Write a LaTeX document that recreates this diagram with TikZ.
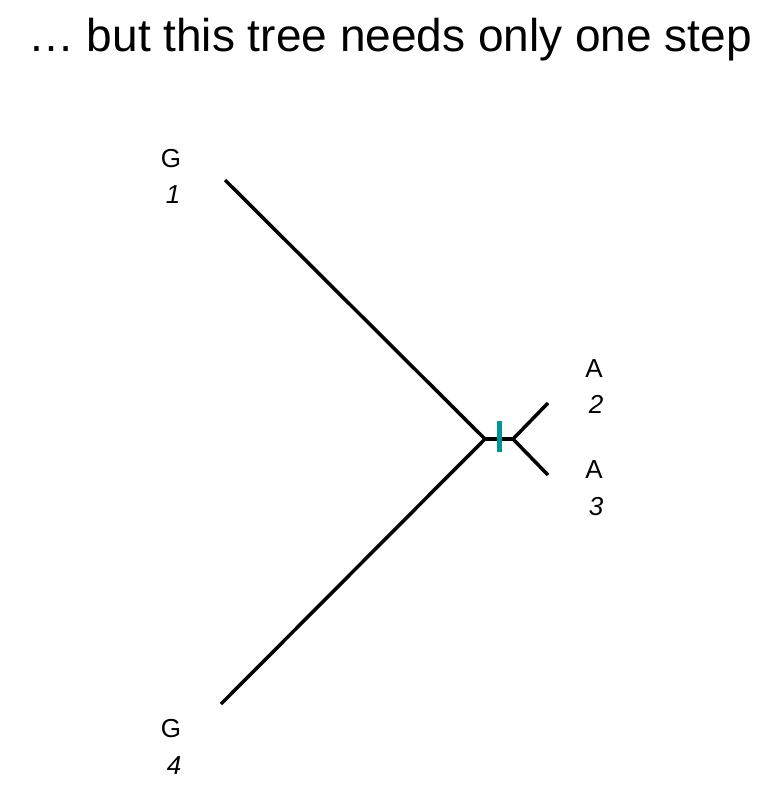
\documentclass[tikz,border=0pt]{standalone}
\usepackage{fontspec}
\setmainfont{Liberation Sans}
\definecolor{tealmark}{RGB}{0,150,150}
\begin{document}
\begin{tikzpicture}[x=1pt,y=-1pt,
  lbl/.style={anchor=base,inner sep=0pt,font=\fontsize{26}{30}\selectfont},
  num/.style={anchor=base,inner sep=0pt,font=\fontsize{26}{30}\selectfont\itshape},
  branch/.style={line width=3.5pt,line cap=butt},
  tick/.style={draw=tealmark,line width=5pt}]
\useasboundingbox (0,0) rectangle (763,793);
\node[anchor=base,inner sep=0pt,font=\fontsize{46}{50}\selectfont] (title) at (390,51) {\dots{} but this tree needs only one step};
% leaf labels
\node[lbl] (g1) at (171,167) {G};
\node[num] (n1) at (173,203) {1};
\node[lbl] (a2) at (594,377) {A};
\node[num] (n2) at (596,413) {2};
\node[lbl] (a3) at (594,478) {A};
\node[num] (n3) at (596,515) {3};
\node[lbl] (g4) at (171,737) {G};
\node[num] (n4) at (174,774) {4};
% tree
\coordinate (t1) at (225,180);
\coordinate (t4) at (221,704);
\coordinate (t2) at (548,403);
\coordinate (t3) at (548,475);
\coordinate (L) at (485,439);
\coordinate (R) at (513,439);
\coordinate (m) at (499,439);
\draw[branch] (t1) -- (L) -- (t4);
\draw[branch] (L) -- (R);
\draw[branch] (t2) -- (R) -- (t3);
\draw[tick] ([yshift=-13]m) -- ([yshift=18]m);
\end{tikzpicture}
\end{document}
